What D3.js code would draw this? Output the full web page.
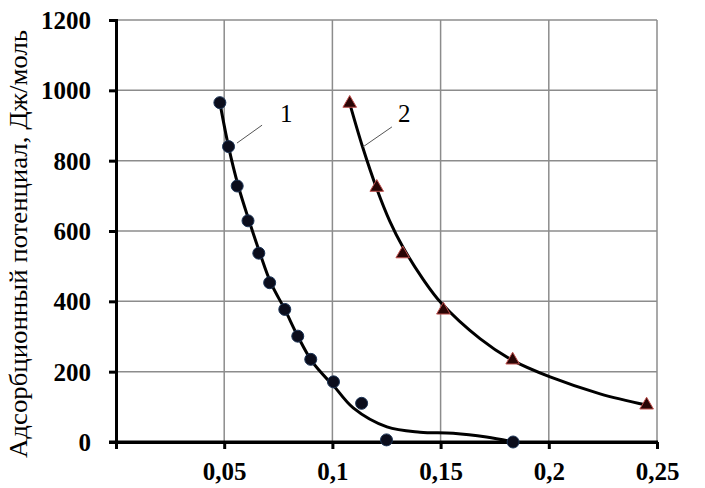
<!DOCTYPE html>
<html>
<head>
<meta charset="utf-8">
<script src="https://cdn.jsdelivr.net/npm/d3@7"></script>
<style>
  html, body { margin: 0; padding: 0; background: #fff; }
  svg { display: block; }
</style>
</head>
<body>
<svg id="chart" width="705" height="488"></svg>
<script>
// ---- data ----
const xTicks = [0, 0.05, 0.1, 0.15, 0.2, 0.25];
const yTicks = [0, 200, 400, 600, 800, 1000, 1200];
const yTitle = "Адсорбционный потенциал, Дж/моль";

// series 1 (circles)
const s1X = [0.048, 0.052, 0.056, 0.061, 0.066, 0.071, 0.078, 0.084, 0.090, 0.1005, 0.1135, 0.125, 0.1835];
const s1Y = [965, 840, 728, 629, 537, 453, 377, 301, 235, 171, 110, 6, 0];
// series 2 (triangles)
const s2X = [0.108, 0.1205, 0.1325, 0.1513, 0.1833, 0.2452];
const s2Y = [963, 724, 535, 375, 233, 105];

// trend curves
const t1X = [0.048, 0.052, 0.0565, 0.0615, 0.0665, 0.0715, 0.078, 0.084, 0.0905, 0.098, 0.1003, 0.1096, 0.1252, 0.1405, 0.1558, 0.1712, 0.1835];
const t1Y = [965, 840, 728, 629, 537, 453, 377, 301, 230, 176, 162, 97, 43, 28, 25, 14, 0];
const t2X = [0.108, 0.114, 0.1205, 0.1265, 0.1325, 0.142, 0.1502, 0.1682, 0.1833, 0.2006, 0.2237, 0.2452];
const t2Y = [963, 838, 720, 628, 555, 462, 396, 294, 232, 185, 137, 105];

// curve labels
const labelText = ["1", "2"];
const labelX = [0.0758, 0.1303];
const labelY = [910, 910];
const leaderX1 = [0.0675, 0.1275];
const leaderY1 = [901, 896];
const leaderX2 = [0.0559, 0.1141];
const leaderY2 = [850, 839];

// ---- drawing ----
const svg = d3.select("#chart");
const x = d3.scaleLinear().domain([0, 0.25]).range([116, 657]);
const y = d3.scaleLinear().domain([0, 1200]).range([442, 20]);
const FONT = "'Liberation Serif', 'Times New Roman', serif";

// gridlines
const grid = svg.append("g").attr("stroke", "#8c8c8c").attr("stroke-width", 1.5);
grid.selectAll("line.v").data(xTicks.filter(d => d > 0)).join("line")
  .attr("x1", d => x(d)).attr("x2", d => x(d))
  .attr("y1", y(0)).attr("y2", y(1200));
grid.selectAll("line.h").data(yTicks.filter(d => d > 0)).join("line")
  .attr("class", "h")
  .attr("x1", x(0)).attr("x2", x(0.25))
  .attr("y1", d => y(d)).attr("y2", d => y(d));

// y axis
const yAxis = svg.append("g").attr("transform", `translate(${x(0)},0)`)
  .call(d3.axisLeft(y).tickValues(yTicks).tickSize(7).tickPadding(18).tickFormat(d => String(d)));
yAxis.select(".domain").attr("stroke", "#000").attr("stroke-width", 3);
yAxis.selectAll(".tick line").attr("stroke", "#000").attr("stroke-width", 3);
yAxis.selectAll(".tick text")
  .attr("font-family", FONT).attr("font-size", 25).attr("font-weight", "bold")
  .attr("fill", "#000").attr("dy", "0.34em");

// x axis
const xAxis = svg.append("g").attr("transform", `translate(0,${y(0)})`)
  .call(d3.axisBottom(x).tickValues(xTicks).tickSize(7).tickSizeOuter(0)
    .tickFormat(d => d === 0 ? "" : String(d).replace(".", ",")));
xAxis.select(".domain").attr("stroke", "#000").attr("stroke-width", 3);
xAxis.selectAll(".tick line").attr("stroke", "#000").attr("stroke-width", 3);
xAxis.selectAll(".tick text")
  .attr("font-family", FONT).attr("font-size", 25).attr("font-weight", "bold")
  .attr("fill", "#000").attr("y", 38).attr("dy", 0);
// extend x axis line left to meet y tick
svg.append("line").attr("x1", x(0) - 7).attr("x2", x(0.25) + 1)
  .attr("y1", y(0)).attr("y2", y(0)).attr("stroke", "#000").attr("stroke-width", 3);

// y title
svg.append("text")
  .attr("transform", `translate(27,244) rotate(-90)`)
  .attr("text-anchor", "middle")
  .attr("font-family", FONT).attr("font-size", 26)
  .attr("textLength", 428).attr("lengthAdjust", "spacingAndGlyphs")
  .attr("fill", "#000")
  .text(yTitle);

// trend curves
const line = d3.line().x(d => x(d[0])).y(d => y(d[1])).curve(d3.curveCatmullRom.alpha(0.5));
svg.append("path").datum(t1X.map((v, i) => [v, t1Y[i]]))
  .attr("d", line).attr("fill", "none").attr("stroke", "#000").attr("stroke-width", 3);
svg.append("path").datum(t2X.map((v, i) => [v, t2Y[i]]))
  .attr("d", line).attr("fill", "none").attr("stroke", "#000").attr("stroke-width", 3);

// markers series 1
svg.append("g").selectAll("circle").data(s1X.map((v, i) => [v, s1Y[i]])).join("circle")
  .attr("cx", d => x(d[0])).attr("cy", d => y(d[1])).attr("r", 6)
  .attr("fill", "#0b0d1c").attr("stroke", "#1d3557").attr("stroke-width", 1);

// markers series 2
const tri = d3.symbol().type(d3.symbolTriangle).size(80);
svg.append("g").selectAll("path").data(s2X.map((v, i) => [v, s2Y[i]])).join("path")
  .attr("d", tri)
  .attr("transform", d => `translate(${x(d[0])},${y(d[1])})`)
  .attr("fill", "#2a0505").attr("stroke", "#c0504d").attr("stroke-width", 1);

// labels and leader lines
labelText.forEach((t, i) => {
  svg.append("line")
    .attr("x1", x(leaderX1[i])).attr("y1", y(leaderY1[i]))
    .attr("x2", x(leaderX2[i])).attr("y2", y(leaderY2[i]))
    .attr("stroke", "#555").attr("stroke-width", 1);
  svg.append("text")
    .attr("x", x(labelX[i])).attr("y", y(labelY[i]))
    .attr("font-family", FONT).attr("font-size", 25).attr("fill", "#000")
    .text(t);
});
</script>
</body>
</html>
